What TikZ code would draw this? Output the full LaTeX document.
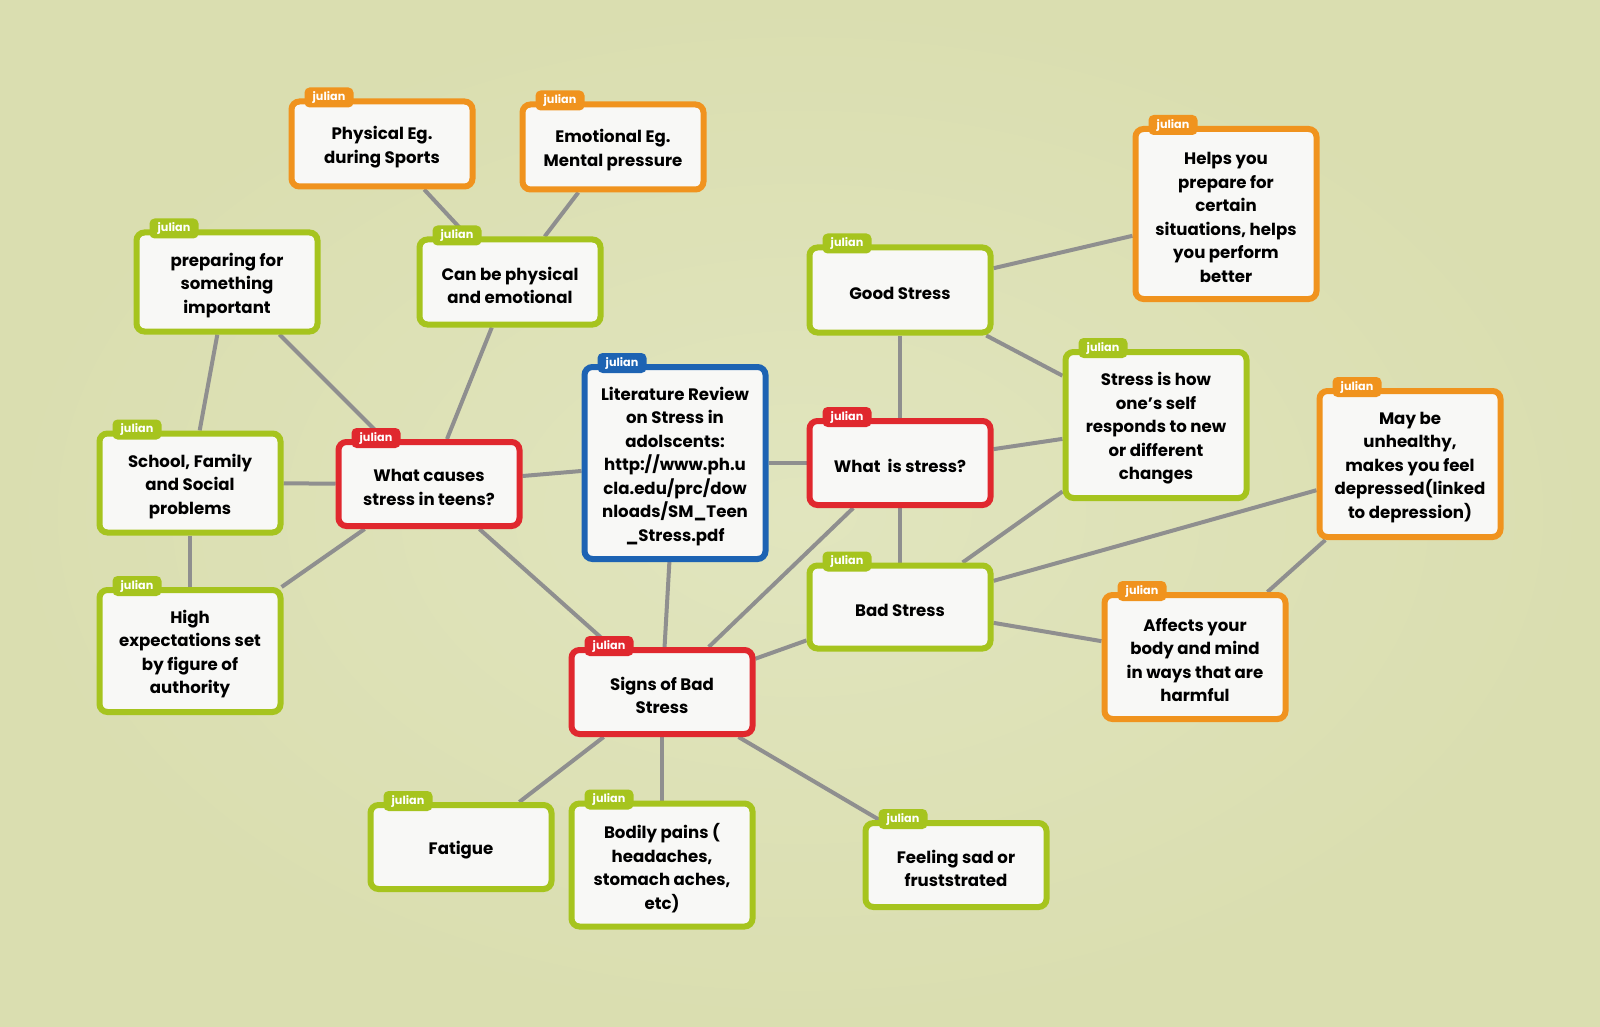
\documentclass[tikz,border=0pt]{standalone}
\usepackage{fontspec}
\newfontfamily\popfont{Poppins}
\usetikzlibrary{backgrounds}
\definecolor{bgin}{RGB}{225,229,190}
\definecolor{bgout}{RGB}{218,222,176}
\definecolor{cardfill}{RGB}{248,248,246}
\definecolor{morange}{RGB}{240,147,30}
\definecolor{mgreen}{RGB}{166,196,30}
\definecolor{mred}{RGB}{224,40,46}
\definecolor{mblue}{RGB}{29,99,179}
\definecolor{edgegray}{RGB}{143,143,143}
\tikzset{
  card/.style={rectangle, fill=cardfill, line width=3pt, rounded corners=4pt,
    minimum width=90.5pt, inner sep=0pt},
  cardtext/.style={inner sep=0pt, align=center,
    font=\popfont\bfseries\fontsize{8.3}{11.75}\selectfont},
  tagtext/.style={text=white, inner sep=0pt, font=\popfont\bfseries\fontsize{5.6}{6}\selectfont},
  link/.style={draw=edgegray, line width=2pt}
}
\newcommand\mmcard[6]{%
  \node[card, draw=#5, minimum height=#4*0.5pt-3pt] (#1) at (#2,#3) {};
  \node[cardtext] (#1-t) at ([yshift=-1.6pt]#1.center) {#6};
  \fill[#5, rounded corners=2.5pt] ([shift={(8pt,5.5pt)}]#1.north west) rectangle ([shift={(32.5pt,-4.5pt)}]#1.north west);
  \node[tagtext] (#1-tag) at ([shift={(20.25pt,0.4pt)}]#1.north west) {julian};
}
\begin{document}
\begin{tikzpicture}[x=0.5pt,y=-0.5pt]
\useasboundingbox (0,0) rectangle (1600,1027);
\begin{pgfonlayer}{background}
  \shade[inner color=bgin, outer color=bgout] (0,0) rectangle (1600,1027);
\end{pgfonlayer}

\mmcard{phys}{382}{144}{91}{morange}{Physical Eg.\\during Sports}
\mmcard{emo}{613}{147}{91}{morange}{Emotional Eg.\\Mental pressure}
\mmcard{prep}{227}{282}{105}{mgreen}{preparing for\\something\\important}
\mmcard{can}{510}{282}{91}{mgreen}{Can be physical\\and emotional}
\mmcard{good}{900}{290}{91}{mgreen}{Good Stress}
\mmcard{helps}{1226}{214}{176}{morange}{Helps you\\prepare for\\certain\\situations, helps\\you perform\\better}
\mmcard{how}{1156}{425}{152}{mgreen}{Stress is how\\one’s self\\responds to new\\or different\\changes}
\mmcard{may}{1410}{464}{152}{morange}{May be\\unhealthy,\\makes you feel\\depressed(linked\\to depression)}
\mmcard{school}{190}{483}{105}{mgreen}{School, Family\\and Social\\problems}
\mmcard{causes}{429}{484}{90}{mred}{What causes\\stress in teens?}
\mmcard{lit}{675}{463}{198}{mblue}{Literature Review\\on Stress in\\adolscents:\\http://www.ph.u\\cla.edu/prc/dow\\nloads/SM\_Teen\\\_Stress.pdf}
\mmcard{what}{900}{463}{90}{mred}{What\ \ is stress?}
\mmcard{bad}{900}{607}{89}{mgreen}{Bad Stress}
\mmcard{affects}{1195}{657}{130}{morange}{Affects your\\body and mind\\in ways that are\\harmful}
\mmcard{high}{190}{651}{128}{mgreen}{High\\expectations set\\by figure of\\authority}
\mmcard{signs}{662}{692}{90}{mred}{Signs of Bad\\Stress}
\mmcard{fatigue}{461}{847}{90}{mgreen}{Fatigue}
\mmcard{bodily}{662}{865}{129}{mgreen}{Bodily pains (\\headaches,\\stomach aches,\\etc)}
\mmcard{feeling}{956}{865}{90}{mgreen}{Feeling sad or\\fruststrated}

\begin{pgfonlayer}{background}
  \draw[link] (phys) -- (can);
  \draw[link] (emo) -- (can);
  \draw[link] (can) -- (causes);
  \draw[link] (prep) -- (causes);
  \draw[link] (prep) -- (school);
  \draw[link] (school) -- (causes);
  \draw[link] (school) -- (high);
  \draw[link] (high) -- (causes);
  \draw[link] (causes) -- (lit);
  \draw[link] (causes) -- (signs);
  \draw[link] (lit) -- (what);
  \draw[link] (lit) -- (signs);
  \draw[link] (what) -- (good);
  \draw[link] (what) -- (bad);
  \draw[link] (what) -- (how);
  \draw[link] (what) -- (signs);
  \draw[link] (good) -- (helps);
  \draw[link] (good) -- (how);
  \draw[link] (bad) -- (how);
  \draw[link] (bad) -- (may);
  \draw[link] (bad) -- (affects);
  \draw[link] (affects) -- (may);
  \draw[link] (bad) -- (signs);
  \draw[link] (signs) -- (fatigue);
  \draw[link] (signs) -- (bodily);
  \draw[link] (signs) -- (feeling);
\end{pgfonlayer}
\end{tikzpicture}
\end{document}
